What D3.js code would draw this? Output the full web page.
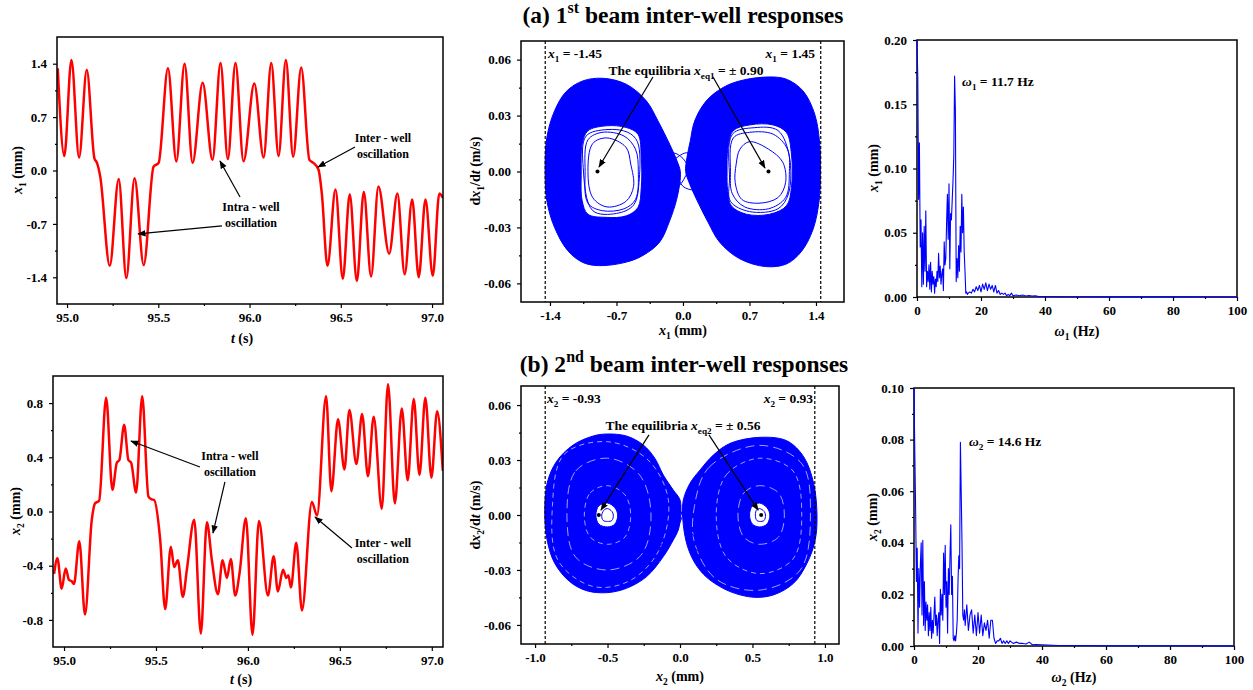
<!DOCTYPE html>
<html>
<head>
<meta charset="utf-8">
<script src="https://cdnjs.cloudflare.com/ajax/libs/d3/7.8.5/d3.min.js"></script>
<style>
  body { margin: 0; background: #fff; }
  svg { font-family: "Liberation Serif", "Times New Roman", serif; font-weight: bold; }
</style>
</head>
<body>
<div id="chart"></div>
<script>
// ---------- data ----------
// (a) beam 1 time history, extrema and shoulders
var t1 = [94.949, 94.985, 95.024, 95.066, 95.108, 95.150, 95.164, 95.182, 95.234, 95.283, 95.325, 95.370, 95.420,
  95.474, 95.502, 95.553, 95.599, 95.644, 95.688, 95.743, 95.797, 95.841, 95.881, 95.923, 95.967, 96.026, 96.077,
  96.119, 96.159, 96.199, 96.239, 96.283, 96.328, 96.350, 96.378, 96.396, 96.427, 96.471, 96.511, 96.549, 96.588,
  96.626, 96.666, 96.706, 96.765, 96.810, 96.850, 96.891, 96.927, 96.964, 97.004, 97.040, 97.060];
var x1 = [1.34, 0.19, 1.45, 0.17, 1.32, 0.16, 0.10, -0.08, -1.25, -0.11, -1.41, -0.10, -1.24,
  0.05, 0.10, 1.34, 0.12, 1.40, 0.10, 1.15, 0.14, 1.41, 0.15, 1.41, 0.12, 1.14, 0.17,
  1.41, 0.19, 1.45, 0.18, 1.35, 0.14, 0.10, 0.01, -0.30, -1.25, -0.25, -1.42, -0.31, -1.45,
  -0.28, -1.39, -0.21, -1.09, -0.30, -1.36, -0.38, -1.40, -0.38, -1.38, -0.30, -0.36];

// (b) beam 2 time history
var t2 = [94.946, 94.964, 94.987, 95.009, 95.027, 95.042, 95.054, 95.083, 95.114, 95.151, 95.169, 95.191, 95.229,
  95.263, 95.287, 95.301, 95.327, 95.350, 95.365, 95.392, 95.425, 95.459, 95.477, 95.490, 95.523, 95.550, 95.581,
  95.599, 95.619, 95.646, 95.668, 95.708, 95.744, 95.777, 95.804, 95.837, 95.862, 95.886, 95.907, 95.931, 95.955,
  95.989, 96.025, 96.060, 96.109, 96.140, 96.163, 96.191, 96.209, 96.220, 96.234, 96.263, 96.294, 96.348, 96.376,
  96.425, 96.454, 96.490, 96.525, 96.552, 96.590, 96.621, 96.653, 96.684, 96.728, 96.762, 96.799, 96.837, 96.869,
  96.902, 96.933, 96.965, 96.998, 97.029, 97.060];
var x2 = [-0.46, -0.345, -0.57, -0.42, -0.505, -0.515, -0.535, -0.22, -0.76, -0.06, 0.06, 0.08, 0.84,
  0.16, 0.36, 0.38, 0.64, 0.38, 0.36, 0.14, 0.85, 0.11, 0.09, 0.085, -0.21, -0.72, -0.26,
  -0.41, -0.36, -0.63, -0.43, -0.06, -0.90, -0.08, -0.36, -0.61, -0.36, -0.49, -0.35, -0.62, -0.45,
  -0.05, -0.91, -0.07, -0.62, -0.33, -0.59, -0.43, -0.49, -0.47, -0.56, -0.23, -0.73, 0.07, -0.03,
  0.85, 0.15, 0.68, 0.31, 0.75, 0.35, 0.72, 0.26, 0.70, 0.02, 0.94, 0.06, 0.76, 0.23,
  0.83, 0.27, 0.84, 0.25, 0.74, 0.30];

// phase portrait (a): [x1, dx1/dt] outlines of the two filled lobes and their holes
var lobeA_left = [[-0.028, 0], [-0.063, 0.0057], [-0.14, 0.0146], [-0.263, 0.0271], [-0.386, 0.0379], [-0.597, 0.0468],
  [-0.843, 0.050], [-1.054, 0.0486], [-1.229, 0.0429], [-1.352, 0.0325], [-1.433, 0.0182], [-1.451, 0],
  [-1.433, -0.0157], [-1.352, -0.030], [-1.212, -0.0425], [-1.054, -0.0488], [-0.878, -0.0505], [-0.597, -0.0486],
  [-0.421, -0.045], [-0.246, -0.0379], [-0.14, -0.0264], [-0.07, -0.0157], [-0.035, -0.0068]];
var lobeA_right = [[0.028, 0], [0.063, -0.0057], [0.14, -0.0146], [0.263, -0.0271], [0.386, -0.0379], [0.597, -0.0468],
  [0.87, -0.051], [1.089, -0.0496], [1.247, -0.0429], [1.37, -0.0309], [1.433, -0.0157], [1.447, 0],
  [1.44, 0.0146], [1.387, 0.0307], [1.264, 0.0432], [1.089, 0.0495], [0.896, 0.0507], [0.597, 0.0486],
  [0.421, 0.045], [0.246, 0.0379], [0.123, 0.0271], [0.077, 0.0164], [0.042, 0.0075]];
var holeA_left = [[-1.071, 0], [-1.061, 0.0146], [-1.001, 0.0218], [-0.808, 0.0245], [-0.597, 0.0236], [-0.474, 0.020],
  [-0.439, 0.0075], [-0.439, -0.0086], [-0.474, -0.0193], [-0.597, -0.0238], [-0.808, -0.0246], [-1.001, -0.0229],
  [-1.061, -0.0157]];
var holeA_right = [[0.464, 0], [0.474, 0.0129], [0.527, 0.0218], [0.702, 0.025], [0.948, 0.025], [1.089, 0.0209],
  [1.142, 0.0093], [1.142, -0.0086], [1.089, -0.0184], [0.913, -0.0229], [0.667, -0.0229], [0.509, -0.0184],
  [0.471, -0.0104]];
var orbitsA = [
  [[-1.03, 0], [-1.0, 0.017], [-0.85, 0.021], [-0.62, 0.019], [-0.5, 0.012], [-0.47, 0], [-0.5, -0.015], [-0.62, -0.02], [-0.85, -0.021], [-1.0, -0.017]],
  [[-1.0, 0], [-0.95, 0.015], [-0.8, 0.018], [-0.6, 0.013], [-0.55, 0.004], [-0.52, -0.008], [-0.6, -0.016], [-0.8, -0.019], [-0.95, -0.014]],
  [[-1.05, 0.002], [-1.02, 0.019], [-0.8, 0.0225], [-0.58, 0.021], [-0.48, 0.016], [-0.46, -0.004], [-0.52, -0.018], [-0.7, -0.0225], [-0.95, -0.021]],
  [[0.5, 0], [0.53, 0.018], [0.7, 0.021], [0.95, 0.02], [1.1, 0.012], [1.12, 0], [1.08, -0.014], [0.9, -0.02], [0.65, -0.019], [0.52, -0.012]],
  [[0.56, 0.004], [0.6, 0.012], [0.7, 0.016], [0.9, 0.012], [1.05, 0.005], [1.08, -0.006], [1.0, -0.014], [0.8, -0.017], [0.62, -0.015], [0.55, -0.006]],
  [[0.49, -0.004], [0.52, 0.02], [0.75, 0.0235], [1.0, 0.022], [1.12, 0.008], [1.11, -0.012], [1.0, -0.02], [0.7, -0.0215], [0.5, -0.016]]
];
var waistA = [
  [[-0.25, 0.008], [-0.1, 0.01], [0, 0.007], [0.08, 0], [0.15, -0.008], [0.3, -0.012]],
  [[-0.3, 0.012], [-0.15, 0.006], [-0.08, 0], [0, -0.008], [0.12, -0.01], [0.25, -0.009]],
  [[-0.2, -0.01], [-0.05, -0.008], [0.05, 0], [0.1, 0.008], [0.2, 0.01], [0.3, 0.009]],
  [[-0.25, -0.004], [-0.1, 0.006], [0.05, 0.01], [0.15, 0.004], [0.2, -0.004]]
];

// phase portrait (b): [x2, dx2/dt]
var lobeB_left = [[-0.933, 0.0009], [-0.917, 0.0173], [-0.853, 0.0291], [-0.737, 0.0382], [-0.599, 0.0431], [-0.507, 0.0442],
  [-0.369, 0.0431], [-0.253, 0.0382], [-0.173, 0.0309], [-0.115, 0.0218], [-0.046, 0.0136], [0, 0.0082], [0.005, 0],
  [-0.012, -0.0082], [-0.046, -0.0136], [-0.115, -0.0227], [-0.23, -0.0336], [-0.369, -0.040], [-0.507, -0.0424],
  [-0.645, -0.0413], [-0.76, -0.0364], [-0.864, -0.0264], [-0.917, -0.0136]];
var lobeB_right = [[0.018, 0], [0.023, 0.0082], [0.069, 0.0173], [0.138, 0.0245], [0.23, 0.0327], [0.346, 0.0391],
  [0.553, 0.0424], [0.737, 0.0405], [0.853, 0.0318], [0.922, 0.0173], [0.945, 0], [0.933, -0.0136], [0.876, -0.0264],
  [0.783, -0.0373], [0.645, -0.0436], [0.507, -0.0449], [0.346, -0.0418], [0.207, -0.0355], [0.127, -0.0291],
  [0.069, -0.0209], [0.035, -0.0118]];
var holeB_left = [[-0.58, 0], [-0.56, 0.005], [-0.5, 0.0065], [-0.45, 0.004], [-0.43, 0], [-0.45, -0.005], [-0.5, -0.0065], [-0.56, -0.005]];
var holeB_right = [[0.48, 0], [0.5, 0.005], [0.55, 0.0065], [0.6, 0.004], [0.62, 0], [0.6, -0.005], [0.55, -0.0065], [0.5, -0.005]];
var orbitsB = [
  [[-0.54, 0], [-0.52, 0.003], [-0.5, 0.0035], [-0.47, 0.002], [-0.46, 0], [-0.47, -0.003], [-0.5, -0.0035], [-0.53, -0.003]],
  [[0.52, 0], [0.53, 0.003], [0.55, 0.0035], [0.58, 0.002], [0.59, 0], [0.58, -0.003], [0.55, -0.0035], [0.53, -0.003]]
];
var ringsB = [
  [[-0.66, 0], [-0.62, 0.012], [-0.5, 0.016], [-0.38, 0.011], [-0.34, 0], [-0.38, -0.012], [-0.5, -0.016], [-0.62, -0.012]],
  [[-0.78, 0], [-0.72, 0.024], [-0.5, 0.031], [-0.28, 0.022], [-0.2, 0], [-0.27, -0.022], [-0.5, -0.03], [-0.72, -0.023]],
  [[-0.88, 0.005], [-0.8, 0.033], [-0.5, 0.04], [-0.22, 0.03], [-0.08, 0.008], [-0.15, -0.02], [-0.35, -0.036], [-0.6, -0.039], [-0.84, -0.025]],
  [[0.4, 0], [0.44, 0.012], [0.55, 0.016], [0.68, 0.012], [0.72, 0], [0.68, -0.012], [0.55, -0.016], [0.44, -0.012]],
  [[0.25, 0], [0.32, 0.022], [0.55, 0.031], [0.78, 0.024], [0.84, 0], [0.78, -0.024], [0.55, -0.032], [0.32, -0.023]],
  [[0.1, 0.005], [0.2, 0.026], [0.55, 0.038], [0.84, 0.028], [0.9, 0], [0.83, -0.03], [0.55, -0.041], [0.25, -0.035], [0.1, -0.015]]
];
var waistB = [
  [[-0.25, 0.025], [-0.1, 0.012], [0.0, 0.002], [0.08, -0.01], [0.2, -0.02]],
  [[-0.2, 0.015], [-0.05, 0.008], [0.03, -0.002], [0.05, -0.012], [0.15, -0.022]],
  [[-0.2, -0.02], [-0.06, -0.012], [0.0, -0.004], [0.06, 0.008], [0.2, 0.02]]
];

// amplitude spectra, shared frequency grid (Hz)
var specFreq = [0, 0.25, 0.5, 0.75, 1, 1.25, 1.5, 1.75, 2, 2.25, 2.5, 2.75, 3, 3.25, 3.5, 3.75, 4, 4.25, 4.5, 4.75,
  5, 5.25, 5.5, 5.75, 6, 6.25, 6.5, 6.75, 7, 7.25, 7.5, 7.75, 8, 8.25, 8.5, 8.75, 9, 9.25, 9.5, 9.75,
  10, 10.25, 10.5, 10.75, 11, 11.25, 11.5, 11.75, 12, 12.25, 12.5, 12.75, 13, 13.25, 13.5, 13.75, 14, 14.25, 14.5, 14.75,
  15, 15.25, 15.5, 15.75, 16, 16.5, 17, 17.5, 18, 18.5, 19, 19.5, 20, 20.5, 21, 21.5, 22, 22.5, 23, 23.5,
  24, 24.5, 25, 25.5, 26, 26.5, 27, 27.5, 28, 28.5, 29, 29.5, 30, 31, 32, 33, 34, 35, 36, 37, 38, 40, 45, 50, 60, 70, 80, 100];
var spec1 = [0.20, 0.17, 0.076, 0.12, 0.039, 0.06, 0.008, 0.05, 0.01, 0.055, 0.02, 0.067, 0.008, 0.02, 0.012, 0.025, 0.006, 0.027, 0.004, 0.02,
  0.01, 0.016, 0.003, 0.014, 0.008, 0.02, 0.012, 0.034, 0.015, 0.024, 0.01, 0.018, 0.022, 0.005, 0.043, 0.025, 0.03, 0.058, 0.08, 0.045,
  0.088, 0.022, 0.065, 0.06, 0.075, 0.09, 0.11, 0.172, 0.145, 0.012, 0.03, 0.015, 0.04, 0.02, 0.055, 0.035, 0.08, 0.05, 0.07, 0.035,
  0.02, 0.003, 0.004, 0.002, 0.003, 0.004, 0.003, 0.006, 0.004, 0.008, 0.005, 0.009, 0.004, 0.01, 0.006, 0.011, 0.005, 0.01, 0.006, 0.009,
  0.004, 0.009, 0.003, 0.005, 0.002, 0.003, 0.002, 0.003, 0.001, 0.002, 0.001, 0.003, 0.001, 0.0015, 0.001, 0.0015, 0.0008, 0.0012, 0.0008, 0.001, 0.0004, 0.0004, 0.0002, 0.0002, 0.0001, 0.0001, 0.0001, 0];
var spec2 = [0.10, 0.075, 0.054, 0.025, 0.038, 0.005, 0.03, 0.015, 0.032, 0.04, 0.012, 0.041, 0.008, 0.025, 0.006, 0.017, 0.01, 0.016, 0.004, 0.013,
  0.006, 0.015, 0.003, 0.01, 0.005, 0.012, 0.019, 0.008, 0.012, 0.004, 0.01, 0.013, 0.001, 0.022, 0.012, 0.02, 0.01, 0.036, 0.02, 0.039,
  0.015, 0.025, 0.005, 0.03, 0.02, 0.035, 0.047, 0.02, 0.027, 0.003, 0.002, 0.004, 0.002, 0.005, 0.01, 0.025, 0.035, 0.03, 0.079, 0.06,
  0.04, 0.012, 0.01, 0.014, 0.008, 0.016, 0.006, 0.012, 0.014, 0.005, 0.012, 0.004, 0.013, 0.005, 0.012, 0.004, 0.009, 0.006, 0.01, 0.003,
  0.01, 0.01, 0.003, 0.001, 0.002, 0.002, 0.003, 0.001, 0.002, 0.001, 0.002, 0.001, 0.002, 0.001, 0.0015, 0.001, 0.001, 0.0008, 0.0015, 0.0005, 0.0006, 0.0005, 0.0002, 0.0002, 0.0001, 0.0001, 0.0001, 0];

// tick labels
var tTicks = [95.0, 95.5, 96.0, 96.5, 97.0], tMinor = [95.25, 95.75, 96.25, 96.75];
var x1Ticks = [-1.4, -0.7, 0, 0.7, 1.4], x1Minor = [-1.05, -0.35, 0.35, 1.05];
var x2Ticks = [-0.8, -0.4, 0, 0.4, 0.8], x2Minor = [-0.6, -0.2, 0.2, 0.6];
var x2pTicks = [-1.0, -0.5, 0, 0.5, 1.0], x2pMinor = [-0.75, -0.25, 0.25, 0.75];
var vTicks = [-0.06, -0.03, 0, 0.03, 0.06], vMinor = [-0.045, -0.015, 0.015, 0.045];
var fTicks = [0, 20, 40, 60, 80, 100], fMinor = [10, 30, 50, 70, 90];
var s1Ticks = [0, 0.05, 0.10, 0.15, 0.20], s1Minor = [0.025, 0.075, 0.125, 0.175];
var s2Ticks = [0, 0.02, 0.04, 0.06, 0.08, 0.10], s2Minor = [0.01, 0.03, 0.05, 0.07, 0.09];

// ---------- drawing ----------
var FONT = '"Liberation Serif", "Times New Roman", serif';
var RED = "#ff0000", BLUE = "#0000ff";

var svg = d3.select("#chart").append("svg").attr("width", 1253).attr("height", 690);
var defs = svg.append("defs");
defs.append("marker").attr("id", "arrow").attr("viewBox", "0 0 10 10")
  .attr("refX", 9).attr("refY", 5).attr("markerWidth", 7).attr("markerHeight", 7)
  .attr("orient", "auto")
  .append("path").attr("d", "M0,1.2L10,5L0,8.8Z").attr("fill", "#000");

function fmt(n) { return function (d) { return d.toFixed(n); }; }

function makePanel(id, x0, y0, x1, y1, xDom, yDom) {
  var w = x1 - x0, h = y1 - y0;
  var g = svg.append("g").attr("transform", "translate(" + x0 + "," + y0 + ")");
  defs.append("clipPath").attr("id", "clip" + id).append("rect").attr("width", w).attr("height", h);
  var p = {g: g, w: w, h: h,
    x: d3.scaleLinear().domain(xDom).range([0, w]),
    y: d3.scaleLinear().domain(yDom).range([h, 0])};
  return p;
}

function styleAxis(a) {
  a.select(".domain").remove();
  a.attr("font-family", FONT).attr("font-size", 13).attr("font-weight", "bold");
  a.selectAll("line").attr("stroke", "#000").attr("stroke-width", 1.2);
  a.selectAll("text").attr("fill", "#000");
}

function drawAxes(p, xt, xm, xf, yt, ym, yf) {
  styleAxis(p.g.append("g").attr("transform", "translate(0," + p.h + ")")
    .call(d3.axisBottom(p.x).tickValues(xt).tickFormat(xf).tickSizeInner(4).tickSizeOuter(0).tickPadding(5)));
  styleAxis(p.g.append("g").attr("transform", "translate(0," + p.h + ")")
    .call(d3.axisBottom(p.x).tickValues(xm).tickFormat("").tickSizeInner(2).tickSizeOuter(0)));
  styleAxis(p.g.append("g")
    .call(d3.axisLeft(p.y).tickValues(yt).tickFormat(yf).tickSizeInner(4).tickSizeOuter(0).tickPadding(6)));
  styleAxis(p.g.append("g")
    .call(d3.axisLeft(p.y).tickValues(ym).tickFormat("").tickSizeInner(2).tickSizeOuter(0)));
}

function frame(p) {
  p.g.append("rect").attr("width", p.w).attr("height", p.h)
    .attr("fill", "none").attr("stroke", "#000").attr("stroke-width", 1.5);
}

// text made of parts: {t, i (italic), sub, sup}
function rich(parent, x, y, parts, fs, anchor, rotate) {
  var t = parent.append("text").attr("font-size", fs).attr("font-family", FONT)
    .attr("font-weight", "bold").attr("fill", "#000").attr("text-anchor", anchor || "start");
  if (rotate) t.attr("transform", "translate(" + x + "," + y + ") rotate(-90)");
  else t.attr("x", x).attr("y", y);
  var shift = 0;
  parts.forEach(function (p) {
    if (typeof p === "string") p = {t: p};
    var target = p.sub ? fs * 0.28 : (p.sup ? -fs * 0.42 : 0);
    var ts = t.append("tspan").text(p.t).attr("dy", target - shift);
    shift = target;
    if (p.sub || p.sup) ts.attr("font-size", fs * 0.68);
    if (p.i) ts.attr("font-style", "italic");
  });
  return t;
}

function arrow(p, a, b) {
  p.g.append("line")
    .attr("x1", p.x(a[0])).attr("y1", p.y(a[1])).attr("x2", p.x(b[0])).attr("y2", p.y(b[1]))
    .attr("stroke", "#000").attr("stroke-width", 1.2).attr("marker-end", "url(#arrow)");
}

function note(p, xy, lines) {
  lines.forEach(function (s, i) {
    p.g.append("text").attr("x", p.x(xy[0])).attr("y", p.y(xy[1]) + i * 16)
      .attr("text-anchor", "middle").attr("font-size", 12).attr("font-family", FONT)
      .attr("font-weight", "bold").attr("fill", "#000").text(s);
  });
}

// ---- time histories ----
function timePanel(id, box, yDom, ts, xs, yt, ym) {
  var p = makePanel(id, box[0], box[1], box[2], box[3], [box[4], box[5]], yDom);
  drawAxes(p, tTicks, tMinor, fmt(1), yt, ym, fmt(1));
  var line = d3.line().x(function (d, i) { return p.x(ts[i]); }).y(function (d) { return p.y(d); })
    .curve(d3.curveMonotoneX);
  p.g.append("g").attr("clip-path", "url(#clip" + id + ")")
    .append("path").attr("d", line(xs)).attr("fill", "none").attr("stroke", RED)
    .attr("stroke-width", 2.5).attr("stroke-linejoin", "round");
  frame(p);
  return p;
}

var pA1 = timePanel("a1", [57, 37, 443, 304, 94.945, 97.06], [-1.75, 1.75], t1, x1, x1Ticks, x1Minor);
note(pA1, [96.731, 0.374], ["Inter - well", "oscillation"]);
arrow(pA1, [96.578, 0.308], [96.375, 0.046]);
note(pA1, [96.008, -0.531], ["Intra - well", "oscillation"]);
arrow(pA1, [95.948, -0.347], [95.838, 0.125]);
arrow(pA1, [95.849, -0.727], [95.389, -0.832]);

var pB1 = timePanel("b1", [53, 376, 443, 647, 94.94, 97.061], [-1.0, 1.0], t2, x2, x2Ticks, x2Minor);
note(pB1, [95.902, 0.380], ["Intra - well", "oscillation"]);
arrow(pB1, [95.739, 0.328], [95.364, 0.520]);
arrow(pB1, [95.875, 0.218], [95.810, -0.159]);
note(pB1, [96.734, -0.262], ["Inter - well", "oscillation"]);
arrow(pB1, [96.566, -0.269], [96.365, -0.041]);

// ---- phase portraits ----
function phasePanel(id, box, xDom, yDom, xt, xm, lobes, holes, orbits, waist, rings, xb, eq) {
  var p = makePanel(id, box[0], box[1], box[2], box[3], xDom, yDom);
  drawAxes(p, xt, xm, fmt(1), vTicks, vMinor, fmt(2));
  var plot = p.g.append("g").attr("clip-path", "url(#clip" + id + ")");
  var closed = d3.line().x(function (d) { return p.x(d[0]); }).y(function (d) { return p.y(d[1]); })
    .curve(d3.curveCatmullRomClosed.alpha(0.5));
  var open = d3.line().x(function (d) { return p.x(d[0]); }).y(function (d) { return p.y(d[1]); })
    .curve(d3.curveCatmullRom.alpha(0.5));
  lobes.forEach(function (lobe, i) {
    plot.append("path").attr("d", closed(lobe) + closed(holes[i]))
      .attr("fill-rule", "evenodd").attr("fill", BLUE).attr("stroke", BLUE).attr("stroke-width", 1);
  });
  rings.forEach(function (r, i) {
    plot.append("path").attr("d", closed(r)).attr("fill", "none")
      .attr("stroke", "#fff").attr("stroke-width", 0.9).attr("stroke-opacity", 0.7)
      .attr("stroke-dasharray", i % 2 ? "9,5" : "5,4");
  });
  orbits.forEach(function (o) {
    plot.append("path").attr("d", closed(o)).attr("fill", "none").attr("stroke", BLUE).attr("stroke-width", 1);
  });
  waist.forEach(function (o) {
    plot.append("path").attr("d", open(o)).attr("fill", "none").attr("stroke", BLUE).attr("stroke-width", 1);
  });
  xb.forEach(function (b) {
    plot.append("line").attr("x1", p.x(b)).attr("x2", p.x(b)).attr("y1", 0).attr("y2", p.h)
      .attr("stroke", "#000").attr("stroke-width", 1.2).attr("stroke-dasharray", "3,2");
  });
  eq.forEach(function (e) {
    plot.append("circle").attr("cx", p.x(e)).attr("cy", p.y(0)).attr("r", 2).attr("fill", "#000");
  });
  frame(p);
  return p;
}

var pA2 = phasePanel("a2", [521, 41, 844, 302], [-1.705, 1.695], [-0.07, 0.07], x1Ticks, x1Minor,
  [lobeA_left, lobeA_right], [holeA_left, holeA_right], orbitsA, waistA, [], [-1.45, 1.45], [-0.90, 0.90]);
rich(pA2.g, pA2.x(-1.421), pA2.y(0.0609), [{t: "x", i: 1}, {t: "1", sub: 1}, " = -1.45"], 13.5);
rich(pA2.g, pA2.x(1.39), pA2.y(0.0609), [{t: "x", i: 1}, {t: "1", sub: 1}, " = 1.45"], 13.5, "end");
rich(pA2.g, pA2.x(0.032), pA2.y(0.0518), ["The equilibria ", {t: "x", i: 1}, {t: "eq1", sub: 1}, " = \u00b1 0.90"], 13.5, "middle");
arrow(pA2, [-0.316, 0.0507], [-0.884, 0.0024]);
arrow(pA2, [0.316, 0.0507], [0.863, 0.0019]);

var pB2 = phasePanel("b2", [521, 386, 839, 644], [-1.097, 1.097], [-0.0704, 0.0704], x2pTicks, x2pMinor,
  [lobeB_left, lobeB_right], [holeB_left, holeB_right], orbitsB, waistB, ringsB, [-0.93, 0.93], [-0.56, 0.56]);
rich(pB2.g, pB2.x(-0.918), pB2.y(0.0611), [{t: "x", i: 1}, {t: "2", sub: 1}, " = -0.93"], 13.5);
rich(pB2.g, pB2.x(0.918), pB2.y(0.0611), [{t: "x", i: 1}, {t: "2", sub: 1}, " = 0.93"], 13.5, "end");
rich(pB2.g, pB2.x(0.021), pB2.y(0.0464), ["The equilibria ", {t: "x", i: 1}, {t: "eq2", sub: 1}, " = \u00b1 0.56"], 13.5, "middle");
arrow(pB2, [-0.214, 0.0437], [-0.545, 0.0027]);
arrow(pB2, [0.2, 0.0437], [0.539, 0.0027]);

// ---- spectra ----
function specPanel(id, box, yDom, vals, yt, ym, yf) {
  var p = makePanel(id, box[0], box[1], box[2], box[3], [0, 100], yDom);
  drawAxes(p, fTicks, fMinor, fmt(0), yt, ym, yf);
  frame(p);
  var line = d3.line().x(function (d, i) { return p.x(specFreq[i]); }).y(function (d) { return p.y(d); });
  p.g.append("path").attr("d", line(vals)).attr("fill", "none").attr("stroke", BLUE)
    .attr("stroke-width", 1.1).attr("stroke-linejoin", "round");
  return p;
}

var pA3 = specPanel("a3", [917, 40, 1237, 297], [0, 0.2], spec1, s1Ticks, s1Minor, fmt(2));
rich(pA3.g, pA3.x(14.1), pA3.y(0.164), [{t: "\u03c9", i: 1}, {t: "1", sub: 1}, " = 11.7 Hz"], 13.5);
var pB3 = specPanel("b3", [914, 388, 1234, 646], [0, 0.1], spec2, s2Ticks, s2Minor, fmt(2));
rich(pB3.g, pB3.x(17.2), pB3.y(0.0775), [{t: "\u03c9", i: 1}, {t: "2", sub: 1}, " = 14.6 Hz"], 13.5);

// ---- axis titles ----
rich(svg, 22, 170, [{t: "x", i: 1}, {t: "1", sub: 1}, " (mm)"], 14, "middle", true);
rich(svg, 242, 343, [{t: "t", i: 1}, " (s)"], 14, "middle");
rich(svg, 20, 511, [{t: "x", i: 1}, {t: "2", sub: 1}, " (mm)"], 14, "middle", true);
rich(svg, 241, 684, [{t: "t", i: 1}, " (s)"], 14, "middle");

rich(svg, 480, 171, ["d", {t: "x", i: 1}, {t: "1", sub: 1}, "/d", {t: "t", i: 1}, " (m/s)"], 14, "middle", true);
rich(svg, 683, 335, [{t: "x", i: 1}, {t: "1", sub: 1}, " (mm)"], 14, "middle");
rich(svg, 480, 515, ["d", {t: "x", i: 1}, {t: "2", sub: 1}, "/d", {t: "t", i: 1}, " (m/s)"], 14, "middle", true);
rich(svg, 680, 681, [{t: "x", i: 1}, {t: "2", sub: 1}, " (mm)"], 14, "middle");

rich(svg, 878, 168, [{t: "x", i: 1}, {t: "1", sub: 1}, " (mm)"], 14, "middle", true);
rich(svg, 1077, 336, [{t: "\u03c9", i: 1}, {t: "1", sub: 1}, " (Hz)"], 14, "middle");
rich(svg, 877, 517, [{t: "x", i: 1}, {t: "2", sub: 1}, " (mm)"], 14, "middle", true);
rich(svg, 1074, 682, [{t: "\u03c9", i: 1}, {t: "2", sub: 1}, " (Hz)"], 14, "middle");

// ---- panel titles ----
rich(svg, 683, 23, ["(a) 1", {t: "st", sup: 1}, " beam inter-well responses"], 23.5, "middle");
rich(svg, 684, 372, ["(b) 2", {t: "nd", sup: 1}, " beam inter-well responses"], 23.5, "middle");
</script>
</body>
</html>
